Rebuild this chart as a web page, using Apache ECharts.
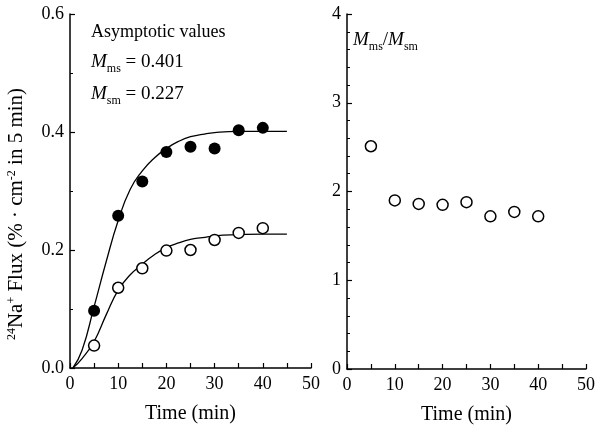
<!doctype html>
<html lang="en">
<head>
    <meta charset="UTF-8">
    <title>24Na+ Flux</title>
    <script type="text/javascript" src="https://cdn.jsdelivr.net/npm/echarts@6/dist/echarts.min.js"></script>
    <style>
        html, body { margin: 0; padding: 0; background: #fff; }
        #chart { width: 598px; height: 431px; }
    </style>
</head>
<body>
<div id="chart"></div>
<script>
    // sample times (min)
    var times = [5, 10, 15, 20, 25, 30, 35, 40];
    // filled circles (M_ms) and open circles (M_sm)
    var msFlux = [0.097, 0.258, 0.316, 0.366, 0.375, 0.372, 0.403, 0.407];
    var smFlux = [0.038, 0.136, 0.169, 0.199, 0.200, 0.217, 0.229, 0.237];
    // ratio panel
    var ratio = [2.51, 1.90, 1.86, 1.85, 1.88, 1.72, 1.77, 1.72];
    // fitted curves
    var fitX = [0.6, 2.5, 5, 7.5, 10, 12.5, 15, 17.5, 20, 22.5, 25, 27.5, 30, 35, 40, 45];
    var msFit = [0, 0.030, 0.104, 0.180, 0.250, 0.303, 0.334, 0.356, 0.372, 0.384, 0.392, 0.396, 0.399, 0.401, 0.401, 0.401];
    var smFit = [0, 0.016, 0.045, 0.090, 0.132, 0.158, 0.176, 0.192, 0.204, 0.212, 0.218, 0.221, 0.224, 0.226, 0.227, 0.227];
    // axis ticks
    var xTicks = [0, 50, 10];
    var leftTicks = [0, 0.6, 0.2];
    var rightTicks = [0, 4, 1];

    var serif = 'Liberation Serif';

    function pairs(xs, ys) {
        var out = [];
        for (var i = 0; i < xs.length; i++) out.push([xs[i], ys[i]]);
        return out;
    }

    function xAxisOpt(idx) {
        return {
            type: 'value', gridIndex: idx,
            min: xTicks[0], max: xTicks[1], interval: xTicks[2],
            name: 'Time (min)', nameLocation: 'middle', nameGap: 36,
            nameTextStyle: { fontFamily: serif, fontSize: 20, color: '#000' },
            axisLine: { lineStyle: { color: '#000', width: 1.5 } },
            axisTick: { inside: true, length: 5, lineStyle: { color: '#000', width: 1.2 } },
            minorTick: { show: true, splitNumber: 2, length: 5, lineStyle: { color: '#000', width: 1.2 } },
            axisLabel: { fontFamily: serif, fontSize: 18, color: '#000', margin: 7 },
            splitLine: { show: false }
        };
    }

    function yAxisOpt(idx, t, fmt, minorSplit) {
        return {
            type: 'value', gridIndex: idx,
            min: t[0], max: t[1], interval: t[2],
            axisLine: { show: true, lineStyle: { color: '#000', width: 1.5 } },
            axisTick: { show: true, inside: true, length: 5, lineStyle: { color: '#000', width: 1.2 } },
            minorTick: { show: true, splitNumber: minorSplit, length: 3, lineStyle: { color: '#000', width: 1 } },
            axisLabel: { fontFamily: serif, fontSize: 18, color: '#000', margin: 6, formatter: fmt },
            splitLine: { show: false }
        };
    }

    // subscript: top-aligned token pushed down with top padding
    var subStyle = { fontFamily: serif, fontSize: 12, lineHeight: 12, verticalAlign: 'top', padding: [10, 0, 0, 0] };
    var itStyle = { fontFamily: serif, fontSize: 19, fontStyle: 'italic' };

    var chart = echarts.init(document.getElementById('chart'));
    chart.setOption({
        animation: false,
        backgroundColor: '#fff',
        grid: [
            { left: 70, top: 14, width: 241, height: 354 },
            { left: 347, top: 14, width: 241, height: 355 }
        ],
        xAxis: [xAxisOpt(0), xAxisOpt(1)],
        yAxis: [
            yAxisOpt(0, leftTicks, function (v) { return v.toFixed(1); }, 2),
            yAxisOpt(1, rightTicks, function (v) { return String(v); }, 5)
        ],
        series: [
            {
                type: 'line', xAxisIndex: 0, yAxisIndex: 0, data: pairs(fitX, msFit),
                smooth: 0.5, showSymbol: false,
                lineStyle: { color: '#000', width: 1.3 }, z: 1
            },
            {
                type: 'line', xAxisIndex: 0, yAxisIndex: 0, data: pairs(fitX, smFit),
                smooth: 0.5, showSymbol: false,
                lineStyle: { color: '#000', width: 1.3 }, z: 1
            },
            {
                type: 'scatter', xAxisIndex: 0, yAxisIndex: 0, data: pairs(times, msFlux),
                symbol: 'circle', symbolSize: 12, itemStyle: { color: '#000', opacity: 1 }, z: 3
            },
            {
                type: 'scatter', xAxisIndex: 0, yAxisIndex: 0, data: pairs(times, smFlux),
                symbol: 'circle', symbolSize: 11,
                itemStyle: { color: '#fff', borderColor: '#000', borderWidth: 1.5, opacity: 1 }, z: 3
            },
            {
                type: 'scatter', xAxisIndex: 1, yAxisIndex: 1, data: pairs(times, ratio),
                symbol: 'circle', symbolSize: 11,
                itemStyle: { color: '#fff', borderColor: '#000', borderWidth: 1.5, opacity: 1 }, z: 3
            }
        ],
        graphic: [
            {
                type: 'text', x: 16, y: 214, rotation: Math.PI / 2,
                style: {
                    text: '{sup|24}Na{sup|+} Flux (% · cm{sup|-2} in 5 min)',
                    font: '21px ' + serif, fill: '#000',
                    align: 'center', verticalAlign: 'middle',
                    rich: {
                        sup: { fontFamily: serif, fontSize: 12, verticalAlign: 'top', lineHeight: 12 }
                    }
                }
            },
            {
                type: 'text', x: 91, y: 32,
                style: { text: 'Asymptotic values', font: '18px ' + serif, fill: '#000', verticalAlign: 'middle' }
            },
            {
                type: 'text', x: 91, y: 62,
                style: {
                    text: '{i|M}{sub|ms} = 0.401', font: '19px ' + serif, fill: '#000', verticalAlign: 'middle',
                    rich: { i: itStyle, sub: subStyle }
                }
            },
            {
                type: 'text', x: 91, y: 94,
                style: {
                    text: '{i|M}{sub|sm} = 0.227', font: '19px ' + serif, fill: '#000', verticalAlign: 'middle',
                    rich: { i: itStyle, sub: subStyle }
                }
            },
            {
                type: 'text', x: 353, y: 40,
                style: {
                    text: '{i|M}{sub|ms}/{i|M}{sub|sm}', font: '19px ' + serif, fill: '#000', verticalAlign: 'middle',
                    rich: { i: itStyle, sub: subStyle }
                }
            }
        ]
    });
</script>
</body>
</html>
